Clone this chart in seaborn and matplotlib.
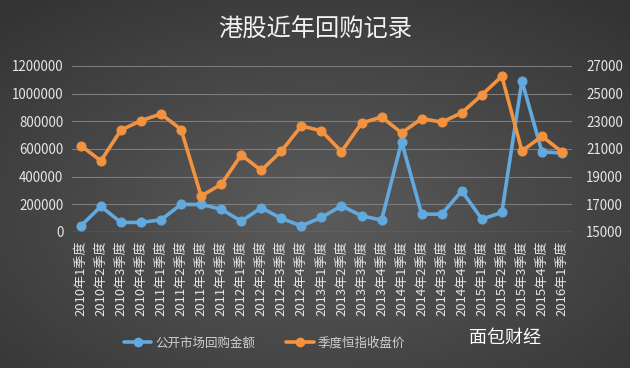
import numpy as np
import pandas as pd
import matplotlib
matplotlib.use('agg')
import matplotlib.pyplot as plt
import seaborn as sns
from matplotlib.lines import Line2D

quarters = ["2010年1季度", "2010年2季度", "2010年3季度", "2010年4季度",
            "2011年1季度", "2011年2季度", "2011年3季度", "2011年4季度",
            "2012年1季度", "2012年2季度", "2012年3季度", "2012年4季度",
            "2013年1季度", "2013年2季度", "2013年3季度", "2013年4季度",
            "2014年1季度", "2014年2季度", "2014年3季度", "2014年4季度",
            "2015年1季度", "2015年2季度", "2015年3季度", "2015年4季度",
            "2016年1季度"]
buyback = [43000, 184000, 68000, 68000, 87000, 198000, 198000, 164000,
           77000, 174000, 97000, 43000, 104000, 188000, 116000, 85000,
           651000, 128000, 128000, 296000, 92000, 140000, 1092000, 578000,
           570000]
hsi = [21239, 20129, 22359, 23035, 23527, 22398, 17592, 18434,
       20556, 19441, 20840, 22657, 22300, 20803, 22859, 23306,
       22151, 23190, 22932, 23605, 24901, 26250, 20846, 21914,
       20777]
left_ticks = [0, 200000, 400000, 600000, 800000, 1000000, 1200000]
right_ticks = [15000, 17000, 19000, 21000, 23000, 25000, 27000]

df = pd.DataFrame({"pos": range(len(quarters)), "quarter": quarters,
                   "buyback": buyback, "hsi": hsi})

sns.set_theme(style="dark")
plt.rcParams['font.family'] = ['Noto Sans CJK SC', 'DejaVu Sans']
plt.rcParams['axes.unicode_minus'] = False

blue = "#62a9de"
orange = "#f39340"
txt = "#e6e6e6"

fig = plt.figure(figsize=(6.3, 3.68), dpi=100)

# dark grey radial background
bg = fig.add_axes([0, 0, 1, 1])
yy, xx = np.mgrid[0:1:200j, 0:1:340j]
r = np.sqrt(((xx - 0.5) / 0.75) ** 2 + ((yy - 0.42) / 0.75) ** 2)
shade = np.clip(0.36 - 0.16 * r, 0.2, 0.4)
bg.imshow(np.dstack([shade] * 3), extent=[0, 1, 0, 1], aspect='auto', origin='lower')
bg.axis('off')

ax = fig.add_axes([0.114, 0.370, 0.794, 0.451])
ax.patch.set_alpha(0)
ax2 = ax.twinx()
ax2.patch.set_alpha(0)

sns.lineplot(data=df, x="pos", y="buyback", ax=ax, color=blue, lw=2.6,
             marker="o", markersize=6.5, markeredgecolor=blue, zorder=3)
sns.lineplot(data=df, x="pos", y="hsi", ax=ax2, color=orange, lw=2.6,
             marker="o", markersize=6.5, markeredgecolor=orange, zorder=3)

ax.set_ylim(0, 1200000)
ax2.set_ylim(15000, 27000)
ax.set_xlim(-0.45, 24.5)
ax.set_yticks(left_ticks)
ax.set_yticklabels([str(v) for v in left_ticks], color=txt, fontsize=9.6)
ax2.set_yticks(right_ticks)
ax2.set_yticklabels([str(v) for v in right_ticks], color=txt, fontsize=9.6)
ax.set_xticks(df["pos"])
ax.set_xticklabels(quarters, rotation=90, color=txt, fontsize=9.4)
ax.tick_params(axis='both', length=0, pad=6)
ax2.tick_params(axis='y', length=0, pad=10)
ax.set_xlabel("")
ax.set_ylabel("")
ax2.set_ylabel("")
ax.grid(axis='y', color="#7c7c7c", lw=0.8)
ax.grid(axis='x', visible=False)
ax2.grid(False)
for a in (ax, ax2):
    for s in a.spines.values():
        s.set_visible(False)
ax.axhline(0, color="#8a8a8a", lw=0.9)

fig.text(0.5, 0.918, "港股近年回购记录", ha='center', va='center',
         fontsize=17.5, color="#f2f2f2")

handles = [Line2D([], [], color=blue, lw=2.6, marker="o", markersize=6),
           Line2D([], [], color=orange, lw=2.6, marker="o", markersize=6)]
fig.legend(handles, ["公开市场回购金额", "季度恒指收盘价"], loc='center',
           bbox_to_anchor=(0.42, 0.068), ncol=2, frameon=False,
           fontsize=9, labelcolor="#cfcfcf", handlelength=2.2,
           columnspacing=2.5, handletextpad=0.3)

fig.text(0.745, 0.082, "面包财经", ha='left', va='center', fontsize=13,
         color="white")

fig.savefig("out.png", dpi=100)
